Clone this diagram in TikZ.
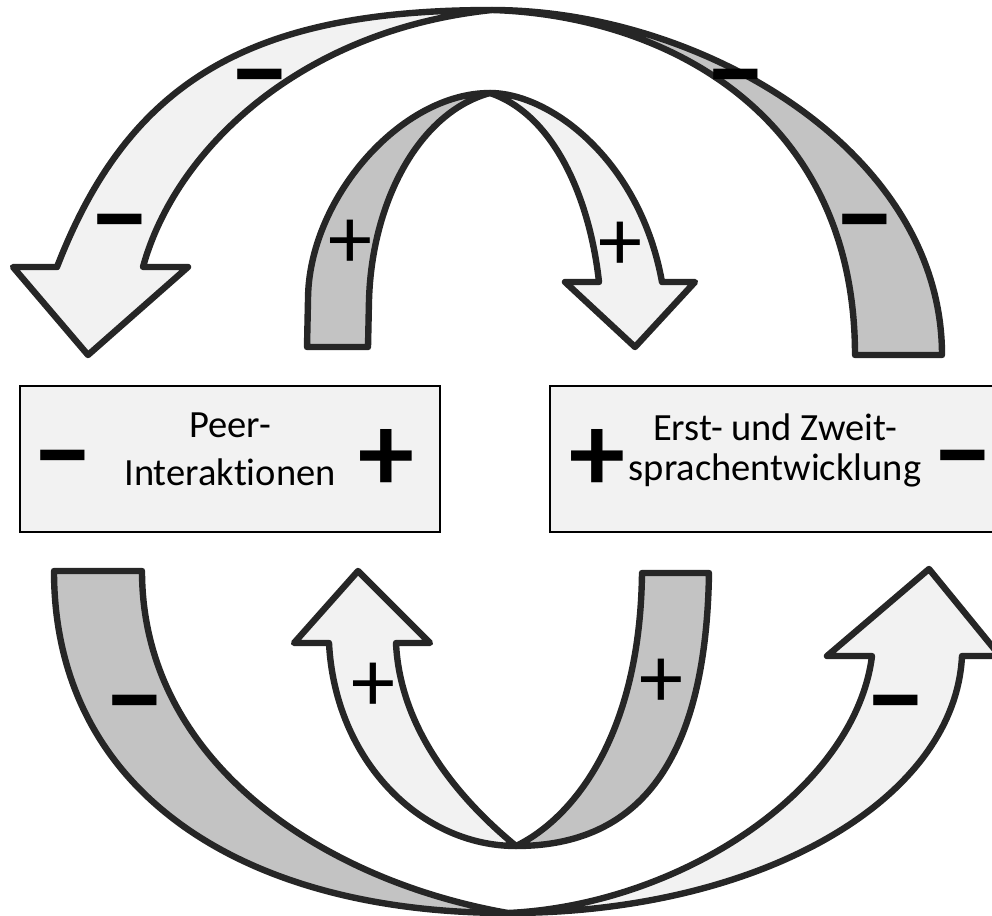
\documentclass[tikz,border=0pt]{standalone}
\usepackage{fontspec}
\setmainfont{Carlito}[Ligatures=NoCommon]
\definecolor{lightfill}{HTML}{F2F2F2}
\definecolor{darkfill}{HTML}{C3C3C3}
\definecolor{rim}{HTML}{262626}
\begin{document}
\begin{tikzpicture}[x=0.5pt,y=-0.5pt,
	band/.style={draw=rim,line width=3.2pt,line join=round},
	light/.style={band,fill=lightfill},
	dark/.style={band,fill=darkfill},
	box/.style={draw=black,line width=1pt,fill=lightfill,minimum height=73pt,inner sep=0pt},
	boxtext/.style={align=center,inner sep=0pt,font=\fontsize{19.25pt}{24pt}\selectfont},
	minussign/.style={inner sep=0pt,yshift=-8.5pt,font=\bfseries\fontsize{57pt}{57pt}\selectfont},
	plussign/.style={inner sep=0pt,yshift=-3pt,font=\bfseries\fontsize{56pt}{56pt}\selectfont},
	smallsign/.style={inner sep=0pt,yshift=-3pt,font=\fontsize{44pt}{44pt}\selectfont}]
	\useasboundingbox (0,0) rectangle (992,916);
	\clip (0,0) rectangle (992,916);
	\draw[dark] (492,10) .. controls (700,10) and (942,150) .. (942,355) -- (855,355) .. controls (855,110) and (660,15) .. (492,10) -- cycle;
	\draw[light] (492,10) .. controls (250,10) and (129,81) .. (57,267) -- (13,267) -- (88,355) -- (188,267) -- (143,267) .. controls (175,150) and (300,30) .. (492,10) -- cycle;
	\draw[dark] (307,347) -- (308,300) .. controls (308,200) and (400,93) .. (490,93) .. controls (420,112) and (372,200) .. (369,300) -- (368,347) -- cycle;
	\draw[light] (490,93) .. controls (550,93) and (640,160) .. (662,282) -- (695,282) -- (635,347) -- (565,282) -- (599,282) .. controls (590,200) and (555,115) .. (490,93) -- cycle;
	\draw[dark] (54,571) .. controls (54,790) and (240,913) .. (508,913) .. controls (320,880) and (142,760) .. (142,571) -- cycle;
	\draw[light] (508,913) .. controls (760,913) and (955,800) .. (962,656) -- (1000,656) -- (929,569) -- (827,656) -- (872,656) .. controls (855,790) and (680,905) .. (508,913) -- cycle;
	\draw[light] (516,846) .. controls (420,846) and (335,760) .. (329,643) -- (294,643) -- (358,571) -- (430,643) -- (396,643) .. controls (400,730) and (460,800) .. (516,846) -- cycle;
	\draw[dark] (516,846) .. controls (640,846) and (706,760) .. (709,573) -- (642,573) .. controls (640,740) and (570,820) .. (516,846) -- cycle;
	\node[box,minimum width=210pt] (peer) at (230,459) {};
	\node[box,minimum width=225pt] (sprache) at (775,459) {};
	\node[boxtext] (peertext) at (230,449) {Peer-\\Interaktionen};
	\node[boxtext,font=\fontsize{19.25pt}{20pt}\selectfont] (sprachetext) at (775,450) {Erst- und Zweit-\\sprachentwicklung};
	\node[minussign] (peerminus) at (63,454) {−};
	\node[plussign] (peerplus) at (386,454) {+};
	\node[plussign] (spracheplus) at (597,454) {+};
	\node[minussign] (spracheminus) at (963,454) {−};
	\node[minussign] (outerminusA) at (260,73) {−};
	\node[minussign] (outerminusB) at (120,218) {−};
	\node[minussign] (outerminusC) at (736,73) {−};
	\node[minussign] (outerminusD) at (865,218) {−};
	\node[minussign] (lowerminusA) at (135,699) {−};
	\node[minussign] (lowerminusB) at (896,699) {−};
	\node[smallsign] (innerplusA) at (350,238) {+};
	\node[smallsign] (innerplusB) at (620,240) {+};
	\node[smallsign] (innerplusC) at (373,681) {+};
	\node[smallsign] (innerplusD) at (661,677) {+};
\end{tikzpicture}
\end{document}
